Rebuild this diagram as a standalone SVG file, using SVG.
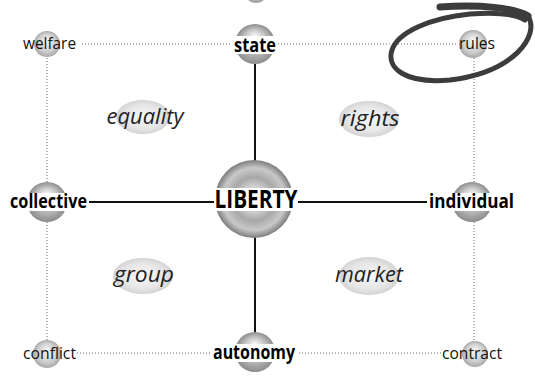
<svg xmlns="http://www.w3.org/2000/svg" width="535" height="376" viewBox="0 0 535 376">
<defs>
<radialGradient id="sph" cx="0.5" cy="0.5" r="0.5" fx="0.5" fy="0.3">
<stop offset="0" stop-color="#fbfbfb"/>
<stop offset="0.55" stop-color="#c4c4c4"/>
<stop offset="1" stop-color="#8c8c8c"/>
</radialGradient>
<radialGradient id="sphL" cx="0.5" cy="0.5" r="0.5" fx="0.5" fy="0.35">
<stop offset="0" stop-color="#f8f8f8"/>
<stop offset="0.7" stop-color="#cdcdcd"/>
<stop offset="1" stop-color="#a8a8a8"/>
</radialGradient>
<radialGradient id="big" cx="0.5" cy="0.5" r="0.5">
<stop offset="0" stop-color="#fafafa"/>
<stop offset="0.3" stop-color="#d4d4d4"/>
<stop offset="0.55" stop-color="#a8a8a8"/>
<stop offset="0.8" stop-color="#c8c8c8"/>
<stop offset="1" stop-color="#7c7c7c"/>
</radialGradient>
<radialGradient id="oval" cx="0.5" cy="0.5" r="0.5">
<stop offset="0" stop-color="#f8f8f8"/>
<stop offset="0.7" stop-color="#e6e6e6"/>
<stop offset="1" stop-color="#d4d4d4"/>
</radialGradient>
</defs>
<style>
.dot{stroke:#9a9a9a;stroke-width:1.5;stroke-dasharray:1 2;fill:none}
.sol{stroke:#111;stroke-width:2;fill:none}
.t{font-family:"Open Sans","DejaVu Sans",sans-serif;font-size:17px;fill:#111}
.b{font-family:"Open Sans","DejaVu Sans",sans-serif;font-size:19px;font-weight:bold;fill:#000}
.q{font-family:"Open Sans","DejaVu Sans",sans-serif;font-size:21px;font-style:italic;fill:#222}
.band{fill:#fff}
</style>
<ellipse cx="256" cy="-1" rx="8" ry="4" fill="#aaa"/>
<g id="connectors">
<line class="dot" x1="82" y1="44" x2="232" y2="44"/>
<line class="dot" x1="278" y1="44" x2="457" y2="44"/>
<line class="dot" x1="47" y1="58" x2="47" y2="182"/>
<line class="dot" x1="47" y1="222" x2="47" y2="340"/>
<line class="dot" x1="474" y1="58" x2="474" y2="182"/>
<line class="dot" x1="474" y1="222" x2="474" y2="340"/>
<line class="dot" x1="77" y1="353" x2="212" y2="353"/>
<line class="dot" x1="296" y1="353" x2="441" y2="353"/>
<line class="sol" x1="255" y1="64" x2="255" y2="161"/>
<line class="sol" x1="255" y1="237" x2="255" y2="333"/>
<line class="sol" x1="89" y1="202" x2="215" y2="202"/>
<line class="sol" x1="297" y1="202" x2="428" y2="202"/>
</g>
<g id="equality"><ellipse cx="143" cy="117" rx="27" ry="17" fill="url(#oval)"/><text class="q" x="145" y="124" text-anchor="middle" textLength="77" lengthAdjust="spacingAndGlyphs">equality</text></g>
<g id="rights"><ellipse cx="369" cy="119" rx="30" ry="18" fill="url(#oval)"/><text class="q" x="370" y="126" text-anchor="middle" textLength="59" lengthAdjust="spacingAndGlyphs">rights</text></g>
<g id="group"><ellipse cx="143" cy="276" rx="30" ry="18" fill="url(#oval)"/><text class="q" x="144" y="282" text-anchor="middle" textLength="60" lengthAdjust="spacingAndGlyphs">group</text></g>
<g id="market"><ellipse cx="369" cy="276" rx="30" ry="19" fill="url(#oval)"/><text class="q" x="369" y="282" text-anchor="middle" textLength="68" lengthAdjust="spacingAndGlyphs">market</text></g>
<g id="welfare"><circle cx="47" cy="44" r="13" fill="url(#sphL)"/><text class="t" x="23" y="49" textLength="53" lengthAdjust="spacingAndGlyphs">welfare</text></g>
<g id="state"><circle cx="255" cy="44" r="20" fill="url(#sph)"/><rect class="band" x="233" y="36" width="45" height="18"/><text class="b" x="255" y="52" text-anchor="middle" textLength="42" lengthAdjust="spacingAndGlyphs">state</text></g>
<g id="rules"><circle cx="473" cy="44" r="14" fill="url(#sphL)"/><text class="t" x="459" y="49" textLength="36" lengthAdjust="spacingAndGlyphs">rules</text></g>
<g id="collective"><circle cx="47" cy="202" r="20" fill="url(#sph)"/><rect class="band" x="8" y="193" width="81" height="18"/><text class="b" x="10" y="208" textLength="77" lengthAdjust="spacingAndGlyphs">collective</text></g>
<g id="liberty"><circle cx="254" cy="199" r="39" fill="url(#big)"/><rect class="band" x="214" y="188" width="84" height="23"/><text x="256" y="208" text-anchor="middle" font-family="Open Sans, DejaVu Sans, sans-serif" font-size="25" font-weight="bold" fill="#000" textLength="83" lengthAdjust="spacingAndGlyphs">LIBERTY</text></g>
<g id="individual"><circle cx="472" cy="202" r="20" fill="url(#sph)"/><rect class="band" x="427" y="193" width="89" height="18"/><text class="b" x="429" y="208" textLength="85" lengthAdjust="spacingAndGlyphs">individual</text></g>
<g id="conflict"><circle cx="47" cy="354" r="14" fill="url(#sphL)"/><text class="t" x="23" y="359" textLength="53" lengthAdjust="spacingAndGlyphs">conflict</text></g>
<g id="autonomy"><circle cx="255" cy="352" r="20" fill="url(#sph)"/><rect class="band" x="211" y="344" width="86" height="18"/><text class="b" x="254" y="359" text-anchor="middle" textLength="82" lengthAdjust="spacingAndGlyphs">autonomy</text></g>
<g id="contract"><circle cx="475" cy="354" r="13" fill="url(#sphL)"/><text class="t" x="442" y="359" textLength="60" lengthAdjust="spacingAndGlyphs">contract</text></g>
<g id="highlight" fill="none" stroke="#3c3c3c" stroke-linecap="round">
<path d="M 440,7 C 480,4 515,8 528,16" stroke-width="7"/>
<path d="M 528,16 C 540,35 515,72 450,80 C 405,84 386,68 392,50 C 398,32 430,18 470,14 C 495,12 515,14 525,20" stroke-width="5"/>
</g>
</svg>
